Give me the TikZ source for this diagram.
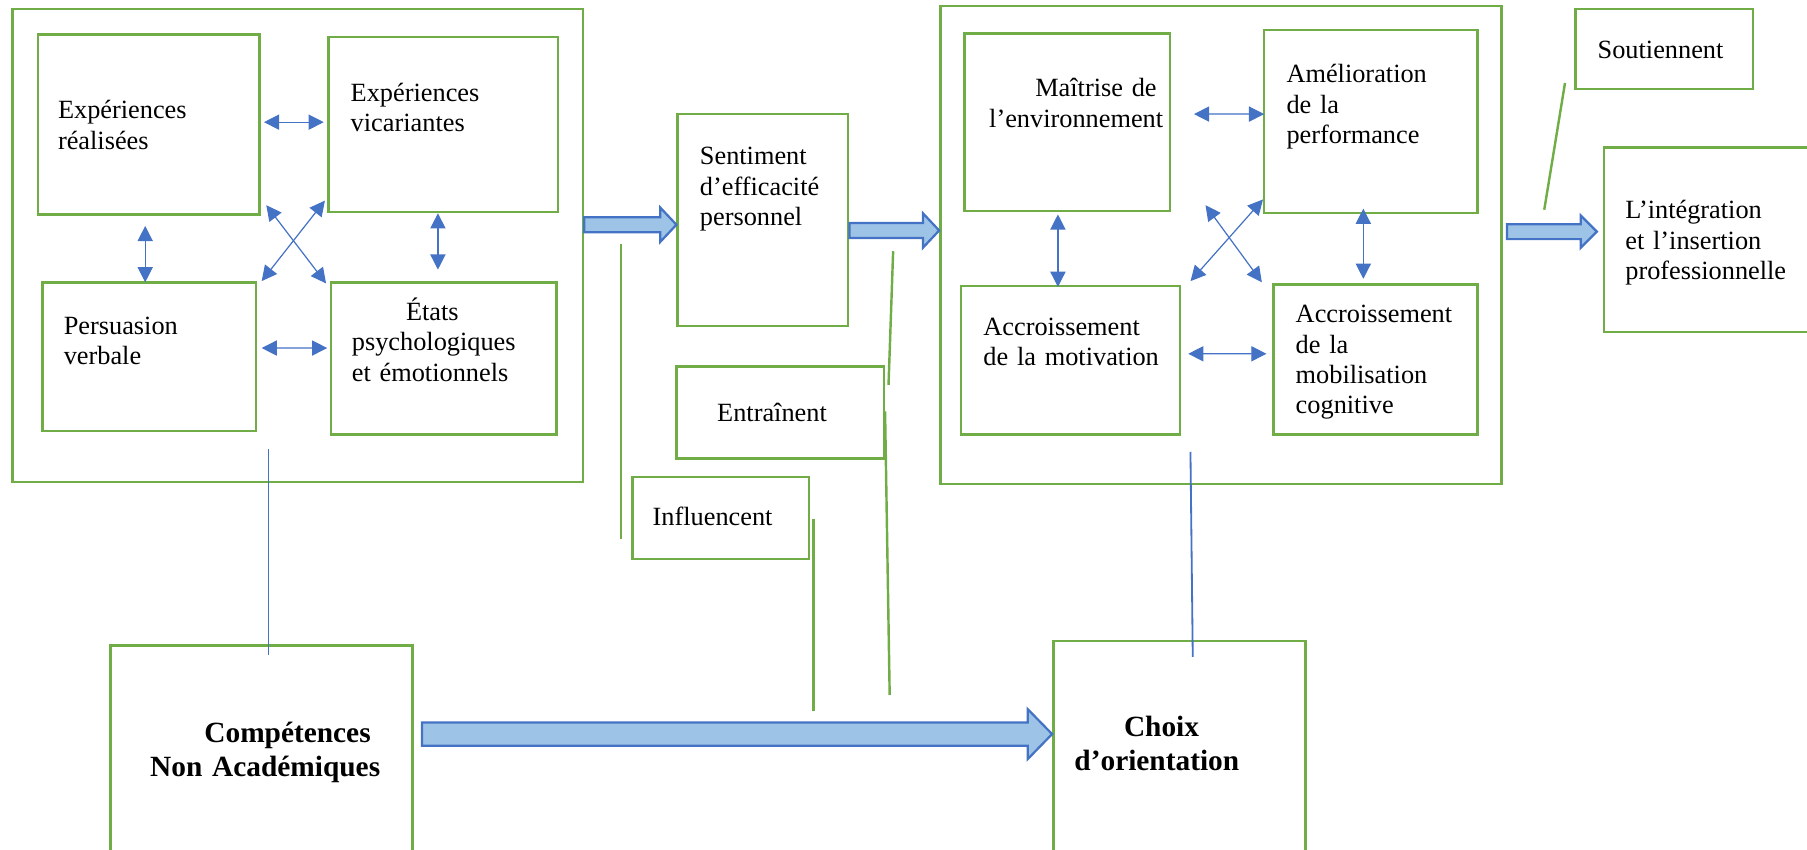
\documentclass[tikz,border=0pt]{standalone}
\usepackage{fontspec}
\setmainfont{Liberation Serif}
\usetikzlibrary{arrows.meta,calc,fit}

\definecolor{boxgreen}{HTML}{70AD47}
\definecolor{linkblue}{HTML}{4472C4}
\definecolor{arrowfill}{HTML}{9DC3E6}

% flat block arrow, left to right: half shaft, half head, head length, from, to
\newcommand{\fatarrow}[5]{%
  \draw[fat] let \p1=(#4), \p2=(#5) in
    (\x1,\y1+#1) -- (\x2-#3,\y1+#1) -- (\x2-#3,\y1+#2) -- (\x2,\y1)
    -- (\x2-#3,\y1-#2) -- (\x2-#3,\y1-#1) -- (\x1,\y1-#1) -- cycle;}

\begin{document}
\begin{tikzpicture}[x=0.02cm, y=-0.02cm,
    box/.style={draw=boxgreen, line width=1.2pt, inner sep=0pt},
    txt/.style={anchor=base west, inner sep=0pt, text width=4.5cm, align=left,
      font=\fontsize{13}{15}\selectfont},
    bold/.style={txt, font=\fontsize{14.5}{17}\selectfont\bfseries},
    link/.style={draw=linkblue, line width=0.6pt, >={Triangle[length=7.5pt,width=7.5pt]}, <->},
    fat/.style={draw=linkblue, fill=arrowfill, line width=1.1pt},
    stem/.style={draw=boxgreen, line width=1.2pt},
    rod/.style={draw=linkblue, line width=0.9pt}]
  \useasboundingbox (0,0) rectangle (1568,737);
  \clip (0,0) rectangle (1568,737);

  % sources of self-efficacy
  \node [box, fit={(11,8) (506,418)}] (L) {};
  \node [box, fit={(33,30) (225,186)}] (A) {};
  \node [box, fit={(285,32) (484,184)}] (B) {};
  \node [box, fit={(37,245) (222,374)}] (C) {};
  \node [box, fit={(287,245) (483,377)}] (D) {};
  \node [txt] (tA) at (50,103) {Expériences\\réalisées};
  \node [txt] (tB) at (304,88) {Expériences\\vicariantes};
  \node [txt] (tC) at (55,290) {Persuasion\\verbale};
  \node [txt] (tD) at (305,278) {\hspace*{0.94cm}États\\psychologiques\\et émotionnels};

  \draw [link] ([shift={(3,-2)}]A.east) -- ([shift={(-3,-2)}]B.west);
  \draw [link] ([shift={(-3,9)}]A.south) -- ([shift={(-3.5,1)}]C.north);
  \draw [link] ([shift={(-4.5,0)}]B.south) -- ([shift={(-5,-10)}]D.north);
  \draw [link] ([shift={(4,-7.5)}]C.east) -- ([shift={(-2,-9)}]D.west);
  \draw [link] ([shift={(5,-9)}]A.south east) -- ([shift={(-3,2)}]D.north west);
  \draw [link] ([shift={(-2,-11)}]B.south west) -- ([shift={(4,0)}]C.north east);

  % middle column
  \node [box, fit={(588,99) (736,283)}] (Sent) {};
  \node [box, fit={(587,318) (767,398)}] (Ent) {};
  \node [box, fit={(549,414) (702,485)}] (Inf) {};
  \node [txt] (tS) at (607,143) {Sentiment\\d’efficacité\\personnel};
  \node [txt] (tEn) at (622,366) {Entraînent};
  \node [txt] (tIn) at (566,456) {Influencent};

  % effects
  \node [box, fit={(816,5) (1303,420)}] (R) {};
  \node [box, fit={(837,29) (1015,183)}] (M) {};
  \node [box, fit={(1097,26) (1282,185)}] (Am) {};
  \node [box, fit={(834,248) (1024,377)}] (Mo) {};
  \node [box, fit={(1105,247) (1282,377)}] (Mb) {};
  \node [txt] (tM) at (858,84) {\hspace*{0.8cm}Maîtrise de\\l’environnement};
  \node [txt] (tAm) at (1116,72) {Amélioration\\de la\\performance};
  \node [txt] (tMo) at (853,291) {Accroissement\\de la motivation};
  \node [txt] (tMb) at (1124,280) {Accroissement\\de la\\mobilisation\\cognitive};

  \draw [link] ([shift={(20,-7)}]M.east) -- ([shift={(1,-6.5)}]Am.west);
  \draw [link] ([shift={(-8,2)}]M.south) -- ([shift={(-11,2)}]Mo.north);
  \draw [link] ([shift={(-6.5,-5)}]Am.south) -- ([shift={(-10.5,-4)}]Mb.north);
  \draw [link] ([shift={(6,-5.5)}]Mo.east) -- ([shift={(-5,-5)}]Mb.west);
  \draw [link] ([shift={(30,-6)}]M.south east) -- ([shift={(-9,-1)}]Mb.north west);
  \draw [link] ([shift={(0,-13)}]Am.south west) -- ([shift={(8,-3)}]Mo.north east);

  % outcome
  \node [box, fit={(1367,8) (1521,77)}] (So) {};
  \node [box, fit={(1392,128) (1590,288)}] (Int) {};
  \node [txt] (tSo) at (1386,51) {Soutiennent};
  \node [txt] (tI) at (1410,190) {L’intégration\\et l’insertion\\professionnelle};

  % bottom row
  \node [box, fit={(96,560) (358,760)}] (Comp) {};
  \node [box, fit={(914,556) (1133,760)}] (Ch) {};
  \node [bold] (tCo) at (130,644) {\hspace*{0.94cm}Compétences\\Non Académiques};
  \node [bold] (tCh) at (932,639) {\hspace*{0.86cm}Choix\\d’orientation};

  % block arrows
  \coordinate (a1s) at (L.east |- 0,195);
  \coordinate (a1e) at (Sent.west |- 0,195);
  \coordinate (a2s) at (Sent.east |- 0,200);
  \coordinate (a2e) at (R.west |- 0,200);
  \coordinate (a3s) at ([xshift=2pt]R.east |- 0,201);
  \coordinate (a3e) at ([xshift=-3pt]Int.west |- 0,201);
  \coordinate (a4s) at ([xshift=4pt]Comp.east |- 0,637);
  \coordinate (a4e) at (Ch.west |- 0,637);
  \fatarrow{3.7pt}{8.5pt}{8pt}{a1s}{a1e}
  \fatarrow{3.7pt}{8.5pt}{8pt}{a2s}{a2e}
  \fatarrow{3.7pt}{8pt}{8pt}{a3s}{a3e}
  \fatarrow{5.7pt}{12.3pt}{12pt}{a4s}{a4e}

  % verb lines
  \coordinate (inf1) at (539,212);
  \coordinate (inf2) at (539,468);
  \coordinate (inf3) at (706,450);
  \coordinate (inf4) at (706,617);
  \coordinate (ent1) at (775,218);
  \coordinate (ent2) at (771,334);
  \coordinate (ent3) at (768,357);
  \coordinate (ent4) at (772,603);
  \coordinate (sou1) at (1358,72);
  \coordinate (sou2) at (1340,182);
  \draw [stem] (inf1) -- (inf2);
  \draw [stem] (inf3) -- (inf4);
  \draw [stem] (ent1) -- (ent2);
  \draw [stem] (ent3) -- (ent4);
  \draw [stem] (sou1) -- (sou2);

  % links to the bottom boxes
  \coordinate (rodL1) at (233,390);
  \coordinate (rodL2) at (233,568);
  \coordinate (rodR1) at (1033,392);
  \coordinate (rodR2) at (1035,570);
  \draw [rod] (rodL1) -- (rodL2);
  \draw [rod] (rodR1) -- (rodR2);
\end{tikzpicture}
\end{document}
